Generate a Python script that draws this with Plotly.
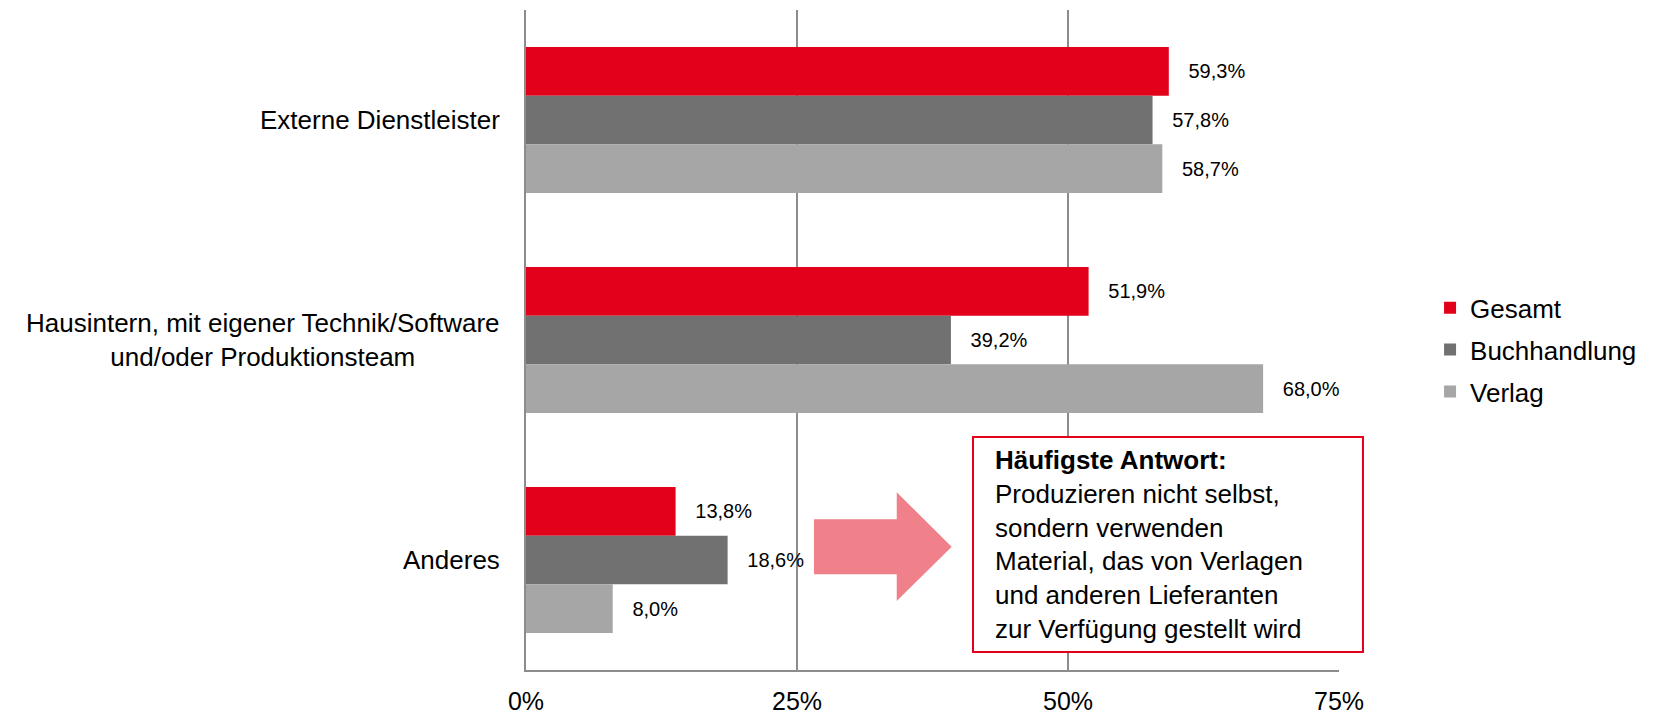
import plotly.graph_objects as go

categories = ["Externe Dienstleister",
              "Hausintern, mit eigener Technik/Software<br>und/oder Produktionsteam",
              "Anderes"]
gesamt = [59.3, 51.9, 13.8]
buchhandlung = [57.8, 39.2, 18.6]
verlag = [58.7, 68.0, 8.0]
x_ticks = [0, 25, 50, 75]
x_tick_labels = ["0%", "25%", "50%", "75%"]

font = "Arial, Liberation Sans, sans-serif"
grid = "#8C8C8C"

series = [("Gesamt", gesamt, "#E2001A"),
          ("Buchhandlung", buchhandlung, "#717171"),
          ("Verlag", verlag, "#A6A6A6")]

fig = go.Figure()
for name, vals, col in series:
    fig.add_trace(go.Bar(
        name=name, y=categories, x=vals, orientation="h",
        marker_color=col, marker_line_width=0,
        text=vals, texttemplate="\u00a0\u00a0\u00a0%{x:.1f}%",
        textposition="outside", cliponaxis=False, constraintext="none",
        textfont=dict(size=20, color="black", family=font),
        legendgroup=name,
    ))

# page body adds an 8px offset, so the figure is 8px smaller than the window
fig.update_layout(
    width=1646, height=708,
    margin=dict(l=518, r=315, t=2, b=46, autoexpand=False),
    paper_bgcolor="white", plot_bgcolor="white",
    barmode="group", bargap=0.336, bargroupgap=0,
    separators=",.",
    font=dict(family=font, size=26, color="black"),
    showlegend=True,
    legend=dict(x=1.112, y=0.485, xanchor="left", yanchor="middle",
                traceorder="grouped", tracegroupgap=5,
                font=dict(size=26, family=font)),
)
fig.update_xaxes(range=[0, 75], tickvals=x_ticks, ticktext=x_tick_labels,
                 showgrid=True, gridcolor=grid, gridwidth=2,
                 showline=True, linecolor=grid, linewidth=2, zeroline=False,
                 ticks="", ticklabelstandoff=8, automargin=False,
                 tickfont=dict(size=25, family=font))
fig.update_yaxes(autorange="reversed", showticklabels=False, automargin=False,
                 showline=True, linecolor=grid, linewidth=2, showgrid=False)

# category labels, centred lines, right-aligned block
for cat in categories:
    fig.add_annotation(x=0, xref="paper", y=cat, yref="y", text=cat,
                       xanchor="right", xshift=-24, align="center",
                       showarrow=False, font=dict(size=26, family=font))

# arrow
fig.add_shape(type="path", xref="paper", yref="paper",
              path="M0.3542,0.2283 L0.4560,0.2283 L0.4560,0.2692 L0.5236,0.1868 "
                   "L0.4560,0.1045 L0.4560,0.1450 L0.3542,0.1450 Z",
              fillcolor="#F0808A", line_width=0, layer="above")

# callout box
fig.add_shape(type="rect", xref="paper", yref="paper",
              x0=0.5498, x1=1.0295, y0=0.0273, y1=0.3530,
              fillcolor="white", line=dict(color="#E2001A", width=2), layer="above")
fig.add_annotation(x=0.5744, y=0.344, xref="paper", yref="paper",
                   xanchor="left", yanchor="top", align="left", showarrow=False,
                   text="<b>Häufigste Antwort:</b><br>Produzieren nicht selbst,<br>"
                        "sondern verwenden<br>Material, das von Verlagen<br>"
                        "und anderen Lieferanten<br>zur Verfügung gestellt wird",
                   font=dict(size=26, family=font, color="black"))

fig.write_html("out.html")
